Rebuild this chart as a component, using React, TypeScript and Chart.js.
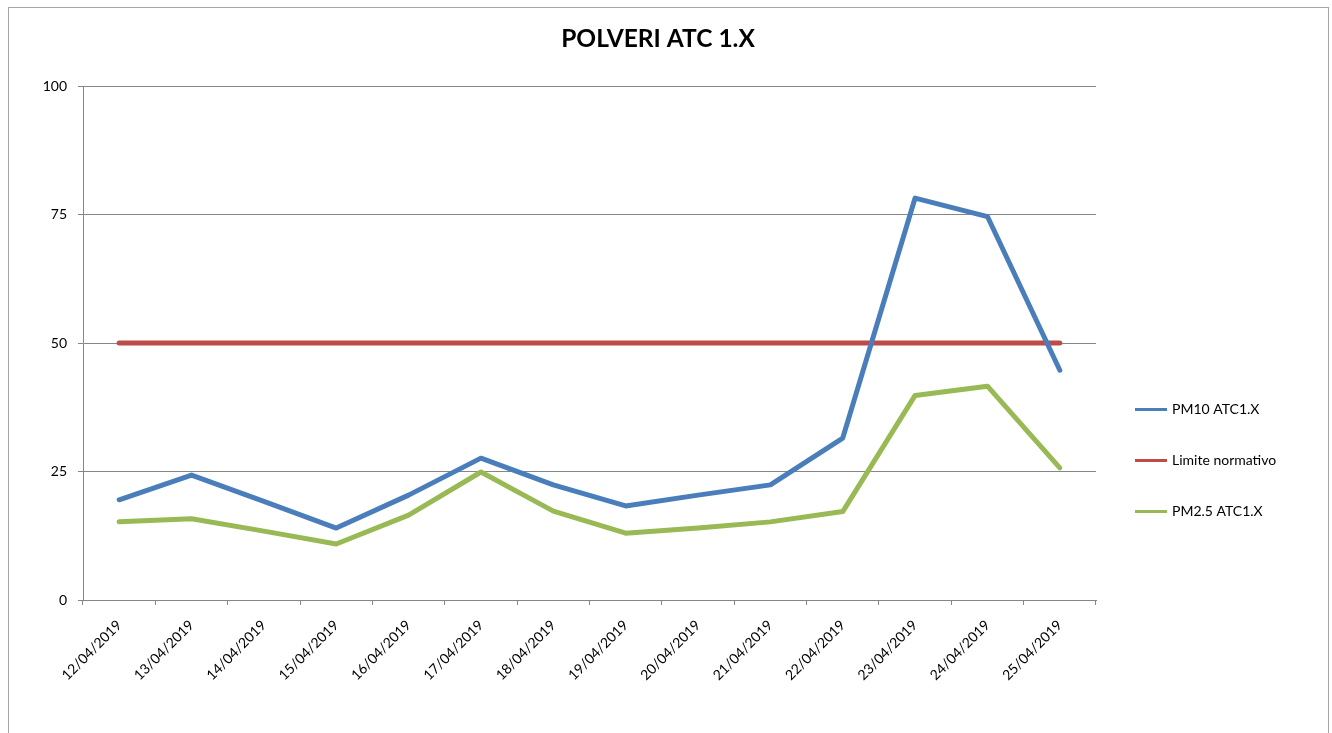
import { useEffect, useRef } from "react";
import { Chart, registerables } from "chart.js";

Chart.register(...registerables);

const categories = [
  "12/04/2019", "13/04/2019", "14/04/2019", "15/04/2019", "16/04/2019",
  "17/04/2019", "18/04/2019", "19/04/2019", "20/04/2019", "21/04/2019",
  "22/04/2019", "23/04/2019", "24/04/2019", "25/04/2019",
];
const pm10 = [19.5, 24.3, 19.2, 14.0, 20.4, 27.6, 22.4, 18.3, 20.4, 22.4, 31.5, 78.2, 74.6, 44.7];
const limiteNormativo = [50, 50, 50, 50, 50, 50, 50, 50, 50, 50, 50, 50, 50, 50];
const pm25 = [15.2, 15.8, 13.4, 10.9, 16.5, 24.9, 17.3, 13.0, 14.0, 15.2, 17.2, 39.8, 41.6, 25.7];
const yMin = 0;
const yMax = 100;
const yStep = 25;

const FONT = "Lato, 'Liberation Sans', sans-serif";

const sideLegend = {
  id: "sideLegend",
  afterDraw(chart: any) {
    const { ctx, chartArea } = chart;
    ctx.save();
    ctx.font = `14px ${FONT}`;
    ctx.textBaseline = "middle";
    ctx.textAlign = "left";
    chart.data.datasets.forEach((ds: any, i: number) => {
      const y = 401 + i * 51;
      const x = chartArea.right + 39;
      ctx.strokeStyle = ds.borderColor;
      ctx.lineWidth = 3;
      ctx.lineCap = "butt";
      ctx.beginPath();
      ctx.moveTo(x, y + 0.5);
      ctx.lineTo(x + 32, y + 0.5);
      ctx.stroke();
      ctx.fillStyle = "#000";
      ctx.fillText(ds.label, x + 37, y);
    });
    ctx.restore();
  },
};

export default function App() {
  const ref = useRef<HTMLCanvasElement | null>(null);

  useEffect(() => {
    if (!ref.current) return;
    const lineStyle = {
      borderWidth: 5,
      pointRadius: 0,
      pointHoverRadius: 0,
      tension: 0,
      fill: false,
      borderCapStyle: "round" as const,
      borderJoinStyle: "round" as const,
    };
    const chart = new Chart(ref.current, {
      type: "line",
      data: {
        labels: categories,
        datasets: [
          { label: "PM10 ATC1.X", data: pm10, borderColor: "#4A7EBB", backgroundColor: "#4A7EBB", ...lineStyle },
          { label: "Limite normativo", data: limiteNormativo, borderColor: "#BE4B48", backgroundColor: "#BE4B48", ...lineStyle },
          { label: "PM2.5 ATC1.X", data: pm25, borderColor: "#98B954", backgroundColor: "#98B954", ...lineStyle },
        ],
      },
      options: {
        responsive: false,
        animation: false,
        devicePixelRatio: 1,
        layout: { padding: { left: 0, right: 21, top: 0, bottom: 0 } },
        plugins: {
          legend: { display: false },
          tooltip: { enabled: false },
          title: {
            display: true,
            text: "POLVERI ATC 1.X",
            color: "#000",
            font: { family: FONT, size: 24.5, weight: "bold", lineHeight: 1.2 },
            padding: { top: 16, bottom: 32.6 },
          },
        },
        scales: {
          x: {
            type: "category",
            offset: true,
            afterFit: (s: any) => { s.height = 133; },
            grid: {
              offset: true,
              drawOnChartArea: false,
              drawTicks: true,
              tickLength: 5,
              color: "#868686",
              lineWidth: 1,
            },
            border: { display: true, color: "#868686", width: 1 },
            ticks: {
              color: "#000",
              font: { family: FONT, size: 14 },
              minRotation: 45,
              maxRotation: 45,
              autoSkip: false,
              padding: 12,
            },
          },
          y: {
            min: yMin,
            max: yMax,
            afterFit: (s: any) => { s.width = 74; },
            grid: {
              color: "#868686",
              lineWidth: 1,
              drawTicks: true,
              tickLength: 5,
            },
            border: { display: true, color: "#868686", width: 1 },
            ticks: {
              stepSize: yStep,
              color: "#000",
              font: { family: FONT, size: 14 },
              padding: 11,
            },
          },
          legendSpace: {
            type: "linear",
            position: "right",
            display: true,
            afterFit: (s: any) => { s.width = 211; },
            grid: { display: false, drawOnChartArea: false },
            border: { display: false },
            ticks: { display: false },
          },
        },
      },
      plugins: [sideLegend],
    });
    return () => chart.destroy();
  }, []);

  return (
    <div
      style={{
        position: "fixed",
        left: 8,
        top: 7,
        width: 1319,
        height: 740,
        border: "1px solid #a6a6a6",
        overflow: "hidden",
        background: "#fff",
      }}
    >
      <canvas ref={ref} width={1319} height={725} style={{ display: "block", width: 1319, height: 725 }} />
    </div>
  );
}
